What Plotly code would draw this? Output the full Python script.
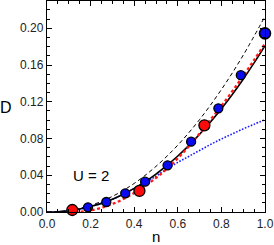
import plotly.graph_objects as go

# curves
n_curve = [0, 0.05, 0.1, 0.15, 0.2, 0.25, 0.3, 0.35, 0.4, 0.45, 0.5, 0.55, 0.6, 0.65, 0.7, 0.75, 0.8, 0.85, 0.9, 0.95, 1.0]
d_solid = [0, 0.0003, 0.0013, 0.0032, 0.0059, 0.0094, 0.0139, 0.0194, 0.0257, 0.033, 0.0413, 0.0508, 0.061, 0.0723, 0.0847, 0.0981, 0.1125, 0.128, 0.1446, 0.1623, 0.181]

n_dash = [0, 0.1, 0.2, 0.3, 0.4, 0.5, 0.6, 0.7, 0.8, 0.9, 1.0]
d_dash = [0, 0.0017, 0.0072, 0.017, 0.0311, 0.0497, 0.0728, 0.1007, 0.1333, 0.1707, 0.213]

n_red = [0.13, 0.15, 0.2, 0.25, 0.3, 0.35, 0.4, 0.45, 0.5, 0.55, 0.6, 0.65, 0.7, 0.75, 0.8, 0.85, 0.9, 0.95, 1.0]
d_red = [0, 0.0002, 0.0017, 0.0046, 0.0087, 0.0141, 0.0207, 0.0283, 0.0371, 0.047, 0.0585, 0.0712, 0.0855, 0.1005, 0.1155, 0.1315, 0.148, 0.1655, 0.1835]

n_blue_line = [0, 0.1, 0.2, 0.3, 0.4, 0.5, 0.55, 0.6, 0.65, 0.7, 0.75, 0.8, 0.85, 0.9, 0.95, 1.0]
d_blue_line = [0, 0.0013, 0.0059, 0.0139, 0.0255, 0.039, 0.047, 0.054, 0.0605, 0.067, 0.0735, 0.0795, 0.085, 0.0905, 0.0955, 0.1005]

# markers
n_blue_pts = [0.188, 0.272, 0.359, 0.45, 0.553, 0.661, 0.786, 0.889]
d_blue_pts = [0.0051, 0.0109, 0.0203, 0.033, 0.0508, 0.0766, 0.1129, 0.149]
n_blue_end = [1.0]
d_blue_end = [0.1945]
n_red_pts = [0.116, 0.424, 0.722]
d_red_pts = [0.0022, 0.0229, 0.0944]

x_ticks = [0.0, 0.2, 0.4, 0.6, 0.8, 1.0]
y_ticks = [0.0, 0.04, 0.08, 0.12, 0.16, 0.20]

fig = go.Figure()
fig.add_trace(go.Scatter(x=n_dash, y=d_dash, mode="lines", line=dict(color="black", width=1, dash="4px,3px", shape="spline")))
fig.add_trace(go.Scatter(x=n_blue_line, y=d_blue_line, mode="lines", line=dict(color="#1a1aff", width=1.6, dash="1.6px,1.6px", shape="spline")))
fig.add_trace(go.Scatter(x=n_curve, y=d_solid, mode="lines", line=dict(color="black", width=1.6, shape="spline")))
fig.add_trace(go.Scatter(x=n_red, y=d_red, mode="lines", line=dict(color="#ff1a1a", width=2.3, dash="3px,2.5px", shape="spline")))
fig.add_trace(go.Scatter(x=n_blue_pts, y=d_blue_pts, mode="markers", cliponaxis=False,
                         marker=dict(color="#0a0af0", size=9, line=dict(color="black", width=1.3))))
fig.add_trace(go.Scatter(x=n_blue_end, y=d_blue_end, mode="markers", cliponaxis=False,
                         marker=dict(color="#0a0af0", size=11, line=dict(color="black", width=1.6))))
fig.add_trace(go.Scatter(x=n_red_pts, y=d_red_pts, mode="markers", cliponaxis=False,
                         marker=dict(color="#ff0a0a", size=11, line=dict(color="black", width=1.3))))

axis_common = dict(showline=True, linecolor="black", linewidth=1.3, mirror="allticks",
                   ticks="inside", ticklen=5, tickwidth=1.2, tickcolor="black",
                   showgrid=False, zeroline=False, ticklabeloverflow="allow",
                   tickfont=dict(family="Liberation Sans, Arial", size=12, color="#222"))
fig.update_xaxes(range=[0, 1.0], tickvals=x_ticks, tickformat=".1f",
                 minor=dict(dtick=0.05, ticks="inside", ticklen=3, tickcolor="black", tickwidth=1),
                 **axis_common)
fig.update_yaxes(range=[0, 0.2297], tickvals=y_ticks, tickformat=".2f",
                 minor=dict(dtick=0.01, ticks="inside", ticklen=3, tickcolor="black", tickwidth=1),
                 **axis_common)

fig.add_annotation(x=0.2, y=0.040, xref="x", yref="y", text="U = 2", showarrow=False,
                   font=dict(family="Liberation Sans, Arial", size=15, color="black"))
fig.add_annotation(x=(6 - 47) / 218, y=(212 - 107) / 211, xref="paper", yref="paper", text="D", showarrow=False,
                   xanchor="center", yanchor="middle",
                   font=dict(family="Liberation Sans, Arial", size=16, color="black"))
fig.add_annotation(x=(156 - 47) / 218, y=(212 - 236) / 211, xref="paper", yref="paper", text="n", showarrow=False,
                   xanchor="center", yanchor="middle",
                   font=dict(family="Liberation Sans, Arial", size=15, color="black"))

fig.update_layout(width=274, height=245, margin=dict(l=47, r=9, t=1, b=33),
                  paper_bgcolor="white", plot_bgcolor="white", showlegend=False)
fig.write_html("out.html", config={"displayModeBar": False},
               post_script="document.body.style.margin='0';document.body.style.overflow='hidden';")
